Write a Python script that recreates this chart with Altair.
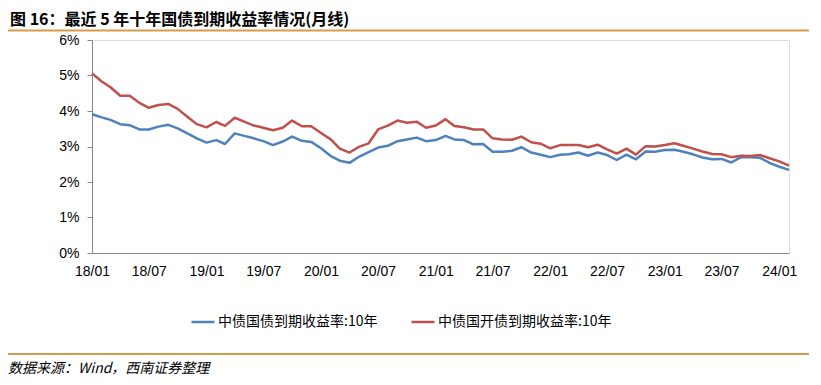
import altair as alt
import pandas as pd

# ---- data ----
months = [f"{y}-{m:02d}-01T00:00:00" for y in range(2018, 2025) for m in range(1, 13)][:74]

gov_10y = [3.91, 3.82, 3.75, 3.63, 3.60, 3.48, 3.48, 3.56, 3.61, 3.51, 3.37, 3.23,
           3.11, 3.18, 3.07, 3.37, 3.30, 3.23, 3.15, 3.04, 3.14, 3.28, 3.16, 3.13,
           2.95, 2.73, 2.60, 2.54, 2.71, 2.84, 2.97, 3.02, 3.15, 3.20, 3.25, 3.15,
           3.18, 3.30, 3.20, 3.18, 3.06, 3.07, 2.85, 2.85, 2.88, 2.98, 2.83, 2.77,
           2.70, 2.77, 2.78, 2.83, 2.74, 2.83, 2.76, 2.62, 2.77, 2.64, 2.86, 2.85,
           2.90, 2.91, 2.85, 2.78, 2.69, 2.64, 2.65, 2.55, 2.70, 2.70, 2.68, 2.54,
           2.43, 2.34]

cdb_10y = [5.06, 4.83, 4.67, 4.43, 4.43, 4.23, 4.09, 4.17, 4.20, 4.06, 3.84, 3.63,
           3.54, 3.69, 3.58, 3.81, 3.70, 3.59, 3.53, 3.46, 3.53, 3.73, 3.57, 3.57,
           3.38, 3.20, 2.94, 2.83, 2.99, 3.09, 3.48, 3.59, 3.73, 3.67, 3.70, 3.53,
           3.59, 3.77, 3.58, 3.54, 3.48, 3.48, 3.23, 3.20, 3.19, 3.28, 3.12, 3.08,
           2.95, 3.04, 3.04, 3.04, 2.98, 3.05, 2.92, 2.80, 2.94, 2.77, 3.01, 3.00,
           3.04, 3.09, 3.02, 2.94, 2.86, 2.79, 2.78, 2.70, 2.74, 2.73, 2.76, 2.67,
           2.58, 2.46]

series_names = ["中债国债到期收益率:10年", "中债国开债到期收益率:10年"]
series_colors = ["#4F81BD", "#C0504D"]

x_tick_dates = [f"{y}-{m:02d}-01T00:00:00" for y in range(2018, 2025) for m in (1, 7)][:13]
y_ticks = [0, 0.01, 0.02, 0.03, 0.04, 0.05, 0.06]

title_text = ["图 16：最近 5 年十年国债到期收益率情况(月线)"]
source_text = ["数据来源：Wind，西南证券整理"]

# ---- tables ----
df = pd.DataFrame({
    "date": months * 2,
    "value": [v / 100 for v in gov_10y] + [v / 100 for v in cdb_10y],
    "series": [series_names[0]] * len(months) + [series_names[1]] * len(months),
})

W, H = 697, 213
FONT = "Liberation Sans"
CJK = "Noto Sans CJK SC"

x_values = [alt.DateTime(year=int(d[:4]), month=int(d[5:7]), date=1) for d in x_tick_dates]

lines = alt.Chart(df).mark_line(strokeWidth=2.5, strokeJoin="round").encode(
    x=alt.X("date:T",
            scale=alt.Scale(domain=[alt.DateTime(year=2018, month=1, date=1),
                                    alt.DateTime(year=2024, month=2, date=1)]),
            axis=alt.Axis(values=x_values, format="%y/%m", title=None, ticks=False,
                          tickSize=0, labelPadding=11, labelFontSize=14, labelFont=FONT,
                          labelColor="#000000", domainColor="#868686", domainWidth=1,
                          grid=False, labelFlush=False, labelOverlap=False)),
    y=alt.Y("value:Q",
            scale=alt.Scale(domain=[0, 0.06], nice=False),
            axis=alt.Axis(values=y_ticks, format=".0%", title=None, tickSize=5,
                          tickColor="#868686", domainColor="#868686", labelFontSize=14,
                          labelFont=FONT, labelColor="#000000", labelPadding=8, grid=False)),
    color=alt.Color("series:N",
                    scale=alt.Scale(domain=series_names, range=series_colors),
                    legend=alt.Legend(orient="none", direction="horizontal", title=None,
                                      legendX=98, legendY=269, symbolType="stroke",
                                      symbolSize=529, symbolStrokeWidth=2.5,
                                      labelFontSize=14, labelFont=CJK, labelColor="#000000",
                                      labelLimit=400, columnPadding=28, labelOffset=2)),
)

title_df = pd.DataFrame({"t": title_text})
title = alt.Chart(title_df).mark_text(align="left", baseline="middle", fontSize=16,
                                       fontWeight="bold", font=CJK, color="#000000").encode(
    x=alt.value(-82), y=alt.value(-20), text="t:N")

source_df = pd.DataFrame({"t": source_text})
source = alt.Chart(source_df).mark_text(align="left", baseline="bottom", fontSize=14,
                                         fontStyle="italic", font=CJK, color="#000000").encode(
    x=alt.value(-84), y=alt.value(336), text="t:N")

top_rule = alt.Chart(title_df).mark_rule(color="#D89B4A", strokeWidth=2).encode(
    x=alt.value(-84), x2=alt.value(721), y=alt.value(-9.5))
bottom_rule = alt.Chart(source_df).mark_rule(color="#D89B4A", strokeWidth=2).encode(
    x=alt.value(-84), x2=alt.value(721), y=alt.value(314))

chart = alt.layer(lines, title, source, top_rule, bottom_rule).properties(
    width=W, height=H,
    autosize=alt.AutoSizeParams(type="none"),
    padding={"left": 84, "top": 32, "right": 20, "bottom": 124},
).configure_view(stroke=None).configure(background="white")

chart.save("out.html", embed_options={"renderer": "svg", "actions": False})
